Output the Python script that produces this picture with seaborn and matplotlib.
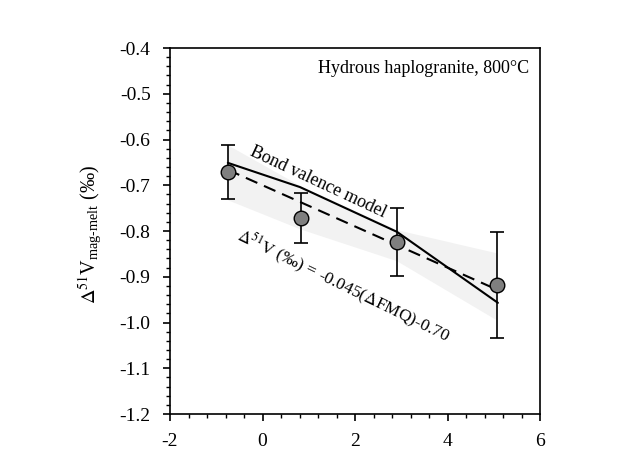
import numpy as np
import pandas as pd
import matplotlib
matplotlib.use("Agg")
import matplotlib.pyplot as plt
import seaborn as sns
from matplotlib.ticker import MultipleLocator, FormatStrFormatter

# Data
dfmq = [-0.75, 0.83, 2.91, 5.07]
d51v = [-0.671, -0.772, -0.824, -0.918]
d51v_err = [0.060, 0.055, 0.074, 0.115]

bv_x = [-0.75, 0.81, 2.91, 5.09]
bv_y = [-0.651, -0.704, -0.802, -0.957]

fit_x = [-0.75, 5.07]
fit_slope = -0.045
fit_intercept = -0.70

band_x = [-0.75, 0.8, 2.9, 5.07]
band_upper = [-0.612, -0.700, -0.797, -0.848]
band_lower = [-0.732, -0.795, -0.865, -0.995]

sns.set_theme(style="ticks")
plt.rcParams['font.family'] = ['Liberation Serif', 'DejaVu Serif']
plt.rcParams['mathtext.fontset'] = 'stix'
plt.rcParams['axes.unicode_minus'] = False
for k in ['text.color', 'axes.labelcolor', 'xtick.color', 'ytick.color', 'axes.edgecolor']:
    plt.rcParams[k] = 'black'

fig = plt.figure(figsize=(6.22, 4.5), dpi=100)
ax = fig.add_axes([170/622, 1-414/450, 370/622, 366/450])

ax.fill_between(band_x, band_lower, band_upper, color='#f2f2f2', lw=0, zorder=1)

fit_df = pd.DataFrame({'x': fit_x, 'y': [fit_slope*v + fit_intercept for v in fit_x]})
sns.lineplot(data=fit_df, x='x', y='y', ax=ax, color='black', lw=1.5,
             linestyle=(0, (6, 3.5)), zorder=2)

bv_df = pd.DataFrame({'x': bv_x, 'y': bv_y})
sns.lineplot(data=bv_df, x='x', y='y', ax=ax, color='black', lw=1.5, zorder=3)

ax.errorbar(dfmq, d51v, yerr=d51v_err, fmt='none', ecolor='black',
            elinewidth=1.2, capsize=5, capthick=1.2, zorder=4)
pts = pd.DataFrame({'x': dfmq, 'y': d51v})
sns.scatterplot(data=pts, x='x', y='y', ax=ax, s=110, color='#7f7f7f',
                edgecolor='black', linewidth=1.0, zorder=5)

ax.set_xlim(-2, 6)
ax.set_ylim(-1.2, -0.4)
ax.xaxis.set_major_locator(MultipleLocator(2))
ax.xaxis.set_minor_locator(MultipleLocator(0.4))
ax.yaxis.set_major_locator(MultipleLocator(0.1))
ax.yaxis.set_minor_locator(MultipleLocator(0.02))
ax.yaxis.set_major_formatter(FormatStrFormatter('%.1f'))
ax.tick_params(which='major', direction='out', length=5, width=1.2, labelsize=14,
               color='black', pad=9)
ax.tick_params(which='minor', direction='out', length=3, width=1.0, color='black')
for s in ax.spines.values():
    s.set_visible(True)
    s.set_color('black')
    s.set_linewidth(1.2)
ax.set_xlabel('')
ax.set_ylabel(r'$\Delta^{51}$V$_{\mathregular{mag\text{-}melt}}$ (‰)', fontsize=14.5)
ax.yaxis.set_label_coords(-0.178, 0.49)

ax.text(0.97, 0.945, 'Hydrous haplogranite, 800°C', transform=ax.transAxes,
        ha='right', va='center', fontsize=13)
ax.text(1.2, -0.693, 'Bond valence model', rotation=-25, ha='center', va='center',
        fontsize=13, rotation_mode='anchor')
ax.text(1.74, -0.92, r'$\Delta^{51}$V (‰) = -0.045($\Delta$FMQ)-0.70', rotation=-26,
        ha='center', va='center', fontsize=12.5, rotation_mode='anchor')

fig.savefig('out.png', dpi=100)
